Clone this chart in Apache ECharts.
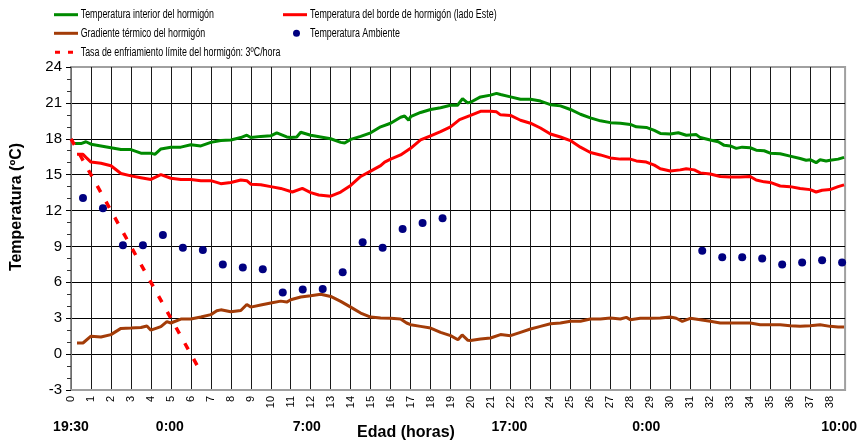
<!DOCTYPE html>
<html>
<head>
<meta charset="utf-8">
<script src="https://cdn.jsdelivr.net/npm/echarts@6/dist/echarts.min.js"></script>
<style>
  html, body { margin: 0; padding: 0; background: #fff; }
  #chart { width: 860px; height: 441px; }
</style>
</head>
<body>
<div id="chart"></div>
<script>
// Temperaturas registradas en el hormigón: [edad (h), temperatura (ºC)]
const interiorTemp = [
  [0.2,17.6],[0.5,17.6],[0.75,17.75],[1,17.55],[1.5,17.4],[2,17.25],[2.5,17.1],[3,17.1],[3.5,16.8],[4,16.8],
  [4.2,16.7],[4.5,17.15],[5,17.3],[5.5,17.3],[6,17.5],[6.5,17.4],[7,17.7],[7.5,17.85],[8,17.9],[8.5,18.1],
  [8.8,18.3],[9,18.1],[9.5,18.2],[10,18.25],[10.3,18.5],[10.8,18.15],[11,18.1],[11.3,18.15],[11.5,18.55],[12,18.3],
  [12.5,18.15],[13,18.0],[13.5,17.7],[13.7,17.65],[14,17.95],[14.5,18.2],[15,18.5],[15.5,19.0],[16,19.3],[16.5,19.8],
  [16.7,19.9],[16.9,19.55],[17,19.85],[17.5,20.2],[18,20.45],[18.5,20.6],[19,20.8],[19.35,20.8],[19.6,21.35],[19.85,21.0],
  [20,21.05],[20.5,21.5],[21,21.65],[21.3,21.8],[21.5,21.7],[22,21.5],[22.5,21.3],[23,21.3],[23.5,21.15],[24,20.85],
  [24.5,20.75],[25,20.45],[25.5,20.05],[26,19.75],[26.5,19.5],[27,19.35],[27.5,19.3],[28,19.2],[28.3,19.0],[28.8,18.95],
  [29.2,18.7],[29.5,18.45],[30,18.4],[30.4,18.5],[30.8,18.3],[31.3,18.35],[31.5,18.1],[32,17.9],[32.4,17.75],[32.7,17.45],
  [33,17.4],[33.3,17.2],[33.6,17.3],[34,17.25],[34.3,17.05],[34.7,17.0],[35,16.8],[35.5,16.75],[36,16.55],[36.5,16.35],
  [36.8,16.2],[37,16.25],[37.3,16.0],[37.5,16.25],[37.8,16.15],[38,16.2],[38.4,16.3],[38.7,16.45]
];

const bordeTemp = [
  [0.3,16.7],[0.6,16.7],[0.75,16.45],[1,16.05],[1.5,15.95],[2,15.75],[2.5,15.1],[3,14.9],[3.5,14.75],[4,14.6],
  [4.5,15.0],[5,14.7],[5.5,14.6],[6,14.6],[6.5,14.5],[7,14.5],[7.5,14.25],[8,14.35],[8.5,14.55],[8.8,14.5],
  [9,14.2],[9.5,14.15],[10,14.0],[10.5,13.85],[11.08,13.55],[11.58,13.85],[12,13.5],[12.4,13.3],[13,13.2],[13.5,13.55],
  [14,14.1],[14.5,14.85],[15,15.3],[15.5,15.75],[15.7,16.05],[16,16.3],[16.5,16.65],[17,17.2],[17.5,17.9],[18,18.25],
  [18.5,18.6],[19,19.0],[19.45,19.6],[20,19.95],[20.5,20.3],[21,20.3],[21.3,20.25],[21.5,20.0],[22,19.95],[22.5,19.55],
  [23,19.3],[23.5,18.9],[24,18.4],[24.5,18.15],[25,17.85],[25.5,17.3],[26,16.85],[26.5,16.65],[27,16.4],[27.5,16.3],
  [28,16.3],[28.3,16.15],[28.8,16.05],[29.2,15.8],[29.5,15.5],[30,15.3],[30.5,15.4],[30.8,15.5],[31.2,15.4],[31.5,15.15],
  [32,15.05],[32.5,14.85],[33,14.8],[33.5,14.8],[34,14.85],[34.3,14.55],[34.7,14.4],[35,14.35],[35.5,14.05],[36,14.0],
  [36.5,13.85],[37,13.75],[37.3,13.55],[37.6,13.7],[38,13.75],[38.4,14.0],[38.7,14.15]
];

const gradienteTemp = [
  [0.3,0.93],[0.6,0.93],[1,1.5],[1.5,1.43],[2,1.63],[2.5,2.15],[3,2.18],[3.5,2.22],[3.8,2.35],[4,2.0],
  [4.5,2.3],[4.8,2.72],[5,2.6],[5.5,2.93],[6,2.93],[6.5,3.1],[7,3.3],[7.3,3.62],[7.5,3.7],[8,3.54],
  [8.5,3.65],[8.8,4.15],[9,3.93],[9.5,4.1],[10,4.27],[10.5,4.43],[10.8,4.35],[11,4.54],[11.5,4.77],[12,4.88],
  [12.5,5.0],[13,4.82],[13.5,4.41],[14,3.93],[14.5,3.43],[15,3.1],[15.5,3.01],[16,2.99],[16.5,2.93],[16.8,2.6],
  [17,2.46],[17.5,2.32],[18,2.18],[18.5,1.82],[19,1.54],[19.37,1.2],[19.58,1.6],[19.87,1.15],[20,1.13],[20.5,1.26],
  [21,1.35],[21.5,1.63],[22,1.54],[22.5,1.82],[23,2.1],[23.5,2.32],[24,2.54],[24.5,2.6],[25,2.74],[25.5,2.74],
  [26,2.93],[26.5,2.93],[27,3.01],[27.5,2.93],[27.8,3.07],[28,2.88],[28.5,2.99],[29,2.99],[29.5,3.01],[30,3.1],
  [30.3,3.0],[30.6,2.74],[31,2.99],[31.5,2.88],[32,2.74],[32.5,2.6],[33,2.6],[33.5,2.6],[34,2.6],[34.5,2.46],
  [35,2.46],[35.5,2.46],[36,2.38],[36.5,2.32],[37,2.38],[37.5,2.46],[38,2.32],[38.4,2.27],[38.7,2.27]
];

// Temperatura ambiente (lecturas horarias)
const ambienteHoras = [0.6,1.6,2.6,3.6,4.6,5.6,6.6,7.6,8.6,9.6,10.6,11.6,12.6,13.6,14.6,15.6,16.6,17.6,18.6,
                       31.6,32.6,33.6,34.6,35.6,36.6,37.6,38.6];
const ambienteTemp  = [13.05,12.2,9.1,9.1,9.95,8.9,8.7,7.5,7.25,7.1,5.15,5.4,5.45,6.85,9.35,8.9,10.45,10.95,11.35,
                       8.65,8.1,8.1,8.0,7.5,7.65,7.85,7.65];

// Límite de enfriamiento: 3 ºC/hora desde 18 ºC
const tasaLimite = [[0,18],[6.45,-1.35]];

// Rótulos de hora del día bajo el eje de edad
const horaDiaPos   = [0, 4.95, 11.8, 21.95, 28.8, 38.45];
const horaDiaTexto = ['19:30', '0:00', '7:00', '17:00', '0:00', '10:00'];

const yTicks = { min: -3, max: 24, step: 3 };

const S_INT = 'Temperatura interior del hormigón';
const S_BOR = 'Temperatura del borde de hormigón (lado Este)';
const S_GRA = 'Gradiente térmico del hormigón';
const S_AMB = 'Temperatura Ambiente';
const S_TAS = 'Tasa de enfriamiento límite del hormigón: 3ºC/hora';

const C_INT = '#008a00';
const C_BOR = '#ff0000';
const C_GRA = '#a33c08';
const C_AMB = '#000080';

const baseFont = "'Liberation Sans', Arial, sans-serif";

// Leyenda: una entrada por componente, en dos columnas
const legendRows = [
  { name: S_INT, left: 54,  cy: 14.7, icon: 'rect', w: 24, h: 3 },
  { name: S_GRA, left: 54,  cy: 33.3, icon: 'rect', w: 24, h: 3 },
  { name: S_TAS, left: 55,  cy: 52.3, icon: 'path://M0,0h5v3h-5zM13,0h5v3h-5z', w: 18, h: 3 },
  { name: S_BOR, left: 283, cy: 14.7, icon: 'rect', w: 24, h: 3 },
  { name: S_AMB, left: 293, cy: 33.3, icon: 'circle', w: 7, h: 7 }
];
const legendText = [
  { text: S_INT, x: 80.7, cy: 14.7 },
  { text: S_GRA, x: 80.7, cy: 33.3 },
  { text: S_TAS, x: 80.7, cy: 52.3 },
  { text: S_BOR, x: 310,  cy: 14.7 },
  { text: S_AMB, x: 310,  cy: 33.3 }
];

const chart = echarts.init(document.getElementById('chart'), null, { renderer: 'canvas' });

chart.setOption({
  animation: false,
  backgroundColor: '#fff',
  textStyle: { fontFamily: baseFont },
  grid: {
    left: 71, right: 13, top: 67, bottom: 51,
    show: true, borderColor: '#a0a0a0', borderWidth: 2, backgroundColor: 'transparent'
  },
  legend: legendRows.map(r => ({
    left: r.left, top: r.cy - r.h / 2, padding: 0,
    itemWidth: r.w, itemHeight: r.h, itemGap: 0,
    selectedMode: false,
    formatter: () => '',
    data: [{ name: r.name, icon: r.icon }]
  })),
  xAxis: [
    {
      type: 'value', min: 0, max: 38.75, interval: 1,
      axisLine: { show: true, onZero: false, lineStyle: { color: '#a0a0a0', width: 2 } },
      axisTick: { show: false },
      axisLabel: {
        rotate: 90, margin: 6, fontSize: 11, color: '#000', fontFamily: baseFont,
        showMaxLabel: false,
        formatter: v => (Number.isInteger(v) ? String(v) : '')
      },
      splitLine: { show: true, showMaxLine: false, lineStyle: { color: '#1a1a1a', width: 1 } }
    },
    {
      type: 'value', min: 0, max: 38.75, position: 'bottom',
      axisLine: { show: false }, axisTick: { show: false }, splitLine: { show: false },
      axisLabel: {
        customValues: horaDiaPos,
        margin: 30, fontSize: 14, fontWeight: 'bold', color: '#000', fontFamily: baseFont,
        formatter: v => {
          const i = horaDiaPos.findIndex(p => Math.abs(p - v) < 1e-6);
          return i >= 0 ? horaDiaTexto[i] : '';
        }
      }
    }
  ],
  yAxis: {
    type: 'value', min: yTicks.min, max: yTicks.max, interval: yTicks.step,
    axisLine: { show: true, lineStyle: { color: '#8a8a8a', width: 1.5 } },
    axisTick: { show: true, inside: false, length: 5, lineStyle: { color: '#000', width: 1 } },
    minorTick: { show: true, splitNumber: 3, length: 4, lineStyle: { color: '#333', width: 1 } },
    axisLabel: { margin: 9, fontSize: 15, color: '#000', fontFamily: baseFont },
    splitLine: { show: true, showMaxLine: false, lineStyle: { color: '#000', width: 1 } }
  },
  graphic: [
    {
      type: 'text', x: 17, y: 207, rotation: Math.PI / 2,
      style: {
        text: 'Temperatura (ºC)', fill: '#000', font: "bold 16px 'Liberation Sans', Arial, sans-serif",
        align: 'center', verticalAlign: 'middle'
      }
    },
    {
      type: 'text', x: 406, y: 433,
      style: {
        text: 'Edad (horas)', fill: '#000', font: "bold 16px 'Liberation Sans', Arial, sans-serif",
        align: 'center', verticalAlign: 'middle'
      }
    }
  ].concat(legendText.map(t => ({
    // rótulos de la leyenda en letra estrecha
    type: 'text', x: t.x, y: t.cy, scaleX: 0.74,
    style: {
      text: t.text, fill: '#000', font: "12px 'Liberation Sans', Arial, sans-serif",
      align: 'left', verticalAlign: 'middle'
    }
  }))),
  series: [
    {
      name: S_INT, type: 'line', data: interiorTemp, showSymbol: false, symbol: 'none',
      lineStyle: { color: C_INT, width: 3 }, itemStyle: { color: C_INT }, z: 3
    },
    {
      name: S_BOR, type: 'line', data: bordeTemp, showSymbol: false, symbol: 'none',
      lineStyle: { color: C_BOR, width: 3 }, itemStyle: { color: C_BOR }, z: 3
    },
    {
      name: S_GRA, type: 'line', data: gradienteTemp, showSymbol: false, symbol: 'none',
      lineStyle: { color: C_GRA, width: 3 }, itemStyle: { color: C_GRA }, z: 3
    },
    {
      name: S_AMB, type: 'scatter', data: ambienteHoras.map((h, i) => [h, ambienteTemp[i]]),
      symbol: 'circle', symbolSize: 8, itemStyle: { color: C_AMB, opacity: 1 }, z: 4
    },
    {
      name: S_TAS, type: 'line', data: tasaLimite, showSymbol: false, symbol: 'none',
      lineStyle: { color: C_BOR, width: 3.5, type: [7, 11] }, itemStyle: { color: C_BOR }, z: 5
    }
  ]
});
</script>
</body>
</html>
